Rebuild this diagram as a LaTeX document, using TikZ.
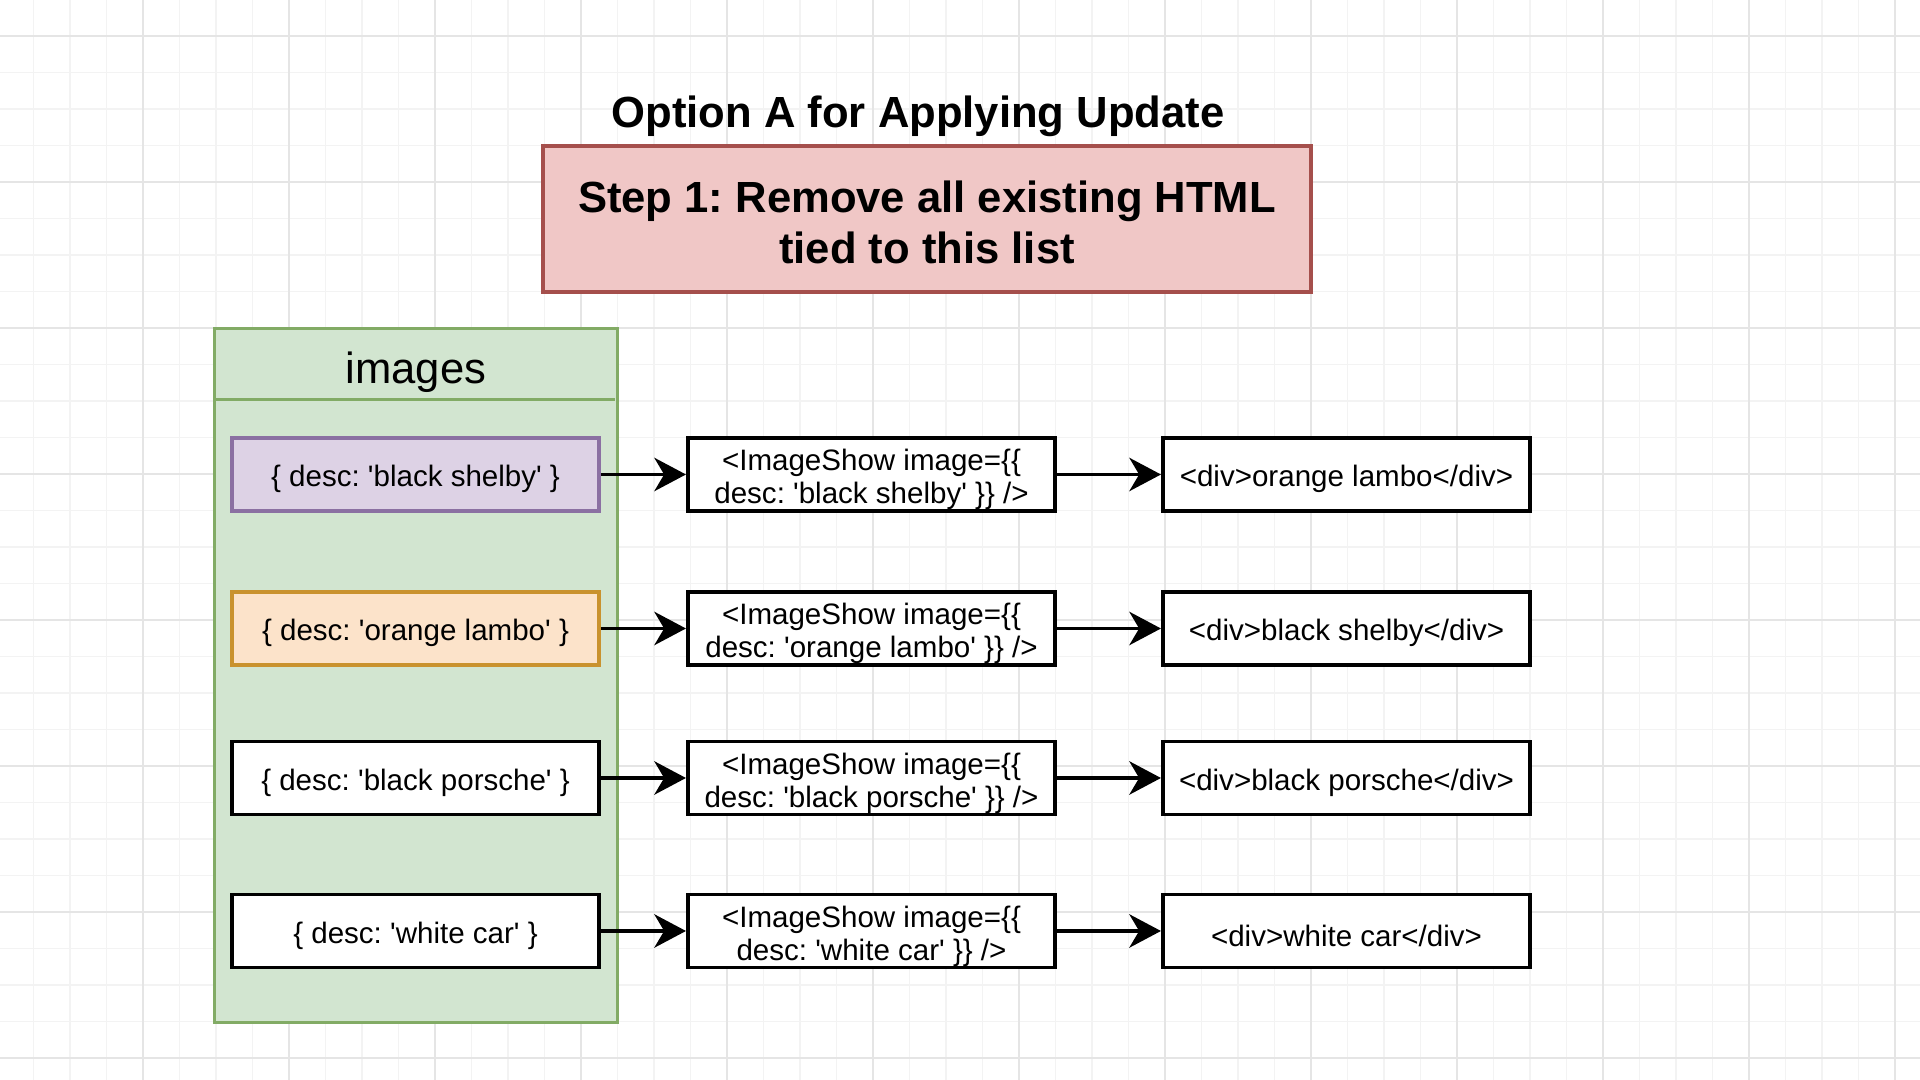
\documentclass[tikz,border=0pt]{standalone}
\usepackage{fontspec}
\setmainfont{Liberation Sans}
\usetikzlibrary{arrows.meta}
\definecolor{redfill}{HTML}{F0C7C6}
\definecolor{redstroke}{HTML}{A54F4C}
\definecolor{greenfill}{HTML}{D2E5D0}
\definecolor{greenstroke}{HTML}{82AB65}
\definecolor{purplefill}{HTML}{DDD2E5}
\definecolor{purplestroke}{HTML}{8B70A2}
\definecolor{orangefill}{HTML}{FCE3CA}
\definecolor{orangestroke}{HTML}{C9922E}
\definecolor{gridminor}{HTML}{F3F3F3}
\definecolor{gridmajor}{HTML}{E5E5E5}
\newcommand{\qs}{\textquotesingle}
\newcommand{\shiftdn}[2]{\raisebox{-#1}[\height][\depth]{#2}}
\newcommand{\twolines}[3][0.06cm]{\shiftdn{#1}{\begin{tabular}{@{}c@{}}#2\\#3\end{tabular}}}
\frenchspacing
\begin{document}
\begin{tikzpicture}[x=0.01cm,y=-0.01cm,
  boxtext/.style={font=\fontsize{8.4pt}{9.4pt}\selectfont},
  itembox/.style={boxtext, draw=black, fill=white, line width=1.1pt, minimum width=3.67cm,
    minimum height=0.73cm, inner sep=0pt, align=center},
  arr/.style={line width=0.95pt, -{Stealth[length=9pt,width=9.5pt,inset=2.8pt]}},
  minorline/.style={gridminor, line width=0.3pt},
  majorline/.style={gridmajor, line width=0.3pt}]
\useasboundingbox (0,0) rectangle (1920,1080);
\fill[white] (0,0) rectangle (1920,1080);
% grid
\foreach \i in {0,...,53} {\draw[minorline] ({-3+36.5*\i},0) -- ({-3+36.5*\i},1080);}
\foreach \j in {0,...,30} {\draw[minorline] (0,{-0.5+36.5*\j}) -- (1920,{-0.5+36.5*\j});}
\foreach \i in {0,...,13} {\draw[majorline] ({-3+146*\i},0) -- ({-3+146*\i},1080);}
\foreach \j in {0,...,7} {\draw[majorline] (0,{36+146*\j}) -- (1920,{36+146*\j});}

% title
\node[font=\fontsize{12.4pt}{14.5pt}\bfseries\selectfont, anchor=base, inner sep=0pt] (title) at (918,128) {Option A for Applying Update};
% step box
\node[draw=redstroke, fill=redfill, line width=1pt, minimum width=7.68cm, minimum height=1.46cm,
  inner sep=0pt, font=\fontsize{12.4pt}{14.5pt}\bfseries\selectfont] (step) at (927,219)
  {\twolines[0.085cm]{Step 1: Remove all existing HTML}{tied to this list}};

% images container
\node[draw=greenstroke, fill=greenfill, line width=0.9pt, minimum width=4.02cm, minimum height=6.93cm, inner sep=0pt] (images) at (416,675.5) {};
\draw[greenstroke, line width=0.9pt] (images.north west) ++(0,72) -- ++(402,0);
\node[font=\fontsize{12.4pt}{14pt}\selectfont, inner sep=0pt] (imglabel) at (416,372) {images};

% left column
\node[itembox, draw=purplestroke, fill=purplefill] (l1) at (415.5,474.5) {\shiftdn{0.045cm}{\{ desc: \qs black shelby\qs{} \}}};
\node[itembox, draw=orangestroke, fill=orangefill] (l2) at (415.5,628.5) {\shiftdn{0.045cm}{\{ desc: \qs orange lambo\qs{} \}}};
\node[itembox] (l3) at (415.5,778) {\shiftdn{0.045cm}{\{ desc: \qs black porsche\qs{} \}}};
\node[itembox] (l4) at (415.5,931) {\shiftdn{0.045cm}{\{ desc: \qs white car\qs{} \}}};

% middle column
\node[itembox] (m1) at (871.5,474.5) {\twolines{<ImageShow image=\{\{}{desc: \qs black shelby\qs{} \}\} />}};
\node[itembox] (m2) at (871.5,628.5) {\twolines{<ImageShow image=\{\{}{desc: \qs orange lambo\qs{} \}\} />}};
\node[itembox] (m3) at (871.5,778) {\twolines{<ImageShow image=\{\{}{desc: \qs black porsche\qs{} \}\} />}};
\node[itembox] (m4) at (871.5,931) {\twolines{<ImageShow image=\{\{}{desc: \qs white car\qs{} \}\} />}};

% right column
\node[itembox] (r1) at (1346.5,474.5) {\shiftdn{0.045cm}{<div>orange lambo</div>}};
\node[itembox] (r2) at (1346.5,628.5) {\shiftdn{0.045cm}{<div>black shelby</div>}};
\node[itembox] (r3) at (1346.5,778) {\shiftdn{0.045cm}{<div>black porsche</div>}};
\node[itembox] (r4) at (1346.5,931) {\shiftdn{0.045cm}{<div>white car</div>}};

% connectors
\foreach \k in {1,2,3,4} {
  \draw[arr] (l\k) -- (m\k);
  \draw[arr] (m\k) -- (r\k);
}
\end{tikzpicture}
\end{document}
